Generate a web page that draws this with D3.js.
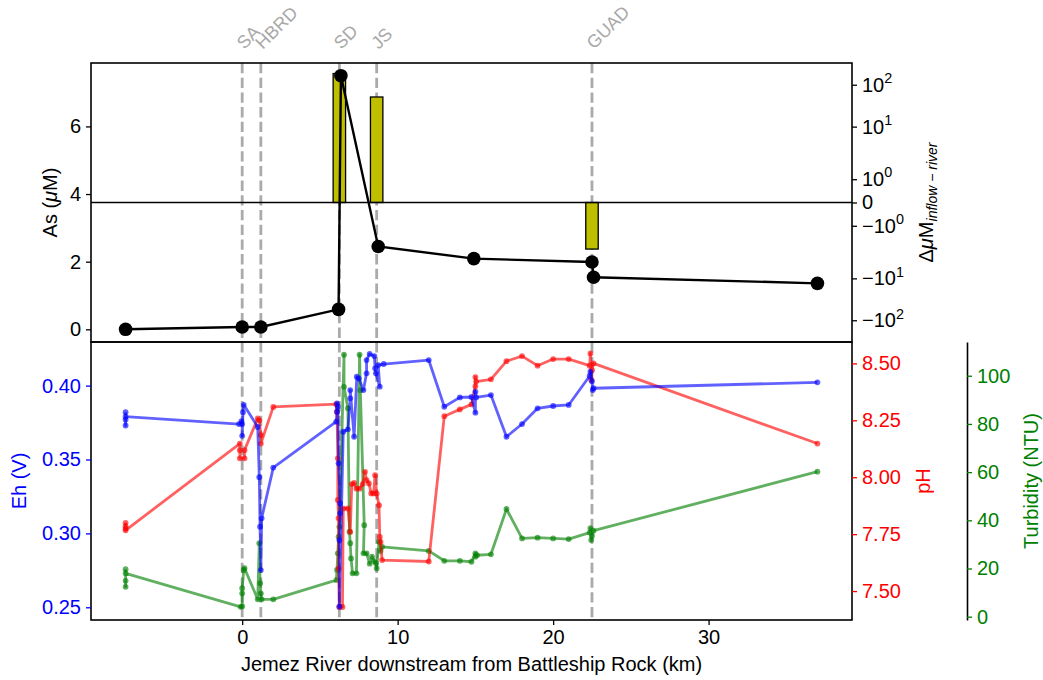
<!DOCTYPE html>
<html>
<head>
<meta charset="utf-8">
<script src="https://cdn.jsdelivr.net/npm/d3@7"></script>
<style>
  body { margin: 0; background: #fff; }
  svg { font-family: "Liberation Sans", Arial, sans-serif; }
</style>
</head>
<body>
<div id="chart"></div>
<script>
// sampling sites along the river (km downstream)
const sites = ["SA", "HBRD", "SD", "JS", "GUAD"];
const siteKm = [0, 1.2, 6.25, 8.65, 22.5];
// inflow minus river arsenic (uM), one bar per site
const deltaAs = [0, 0, 185, 51, -2];

// river arsenic (uM)
const asKm = [-7.5, 0, 1.2, 6.2, 6.35, 8.75, 14.9, 22.5, 22.6, 37];
const asUM = [0.0, 0.07, 0.07, 0.59, 7.5, 2.45, 2.09, 1.99, 1.54, 1.36];

// sonde readings, [km, value]
const ehPts = [
  [-7.5,0.382],[-7.5,0.373],[-7.5,0.377],[-7.5,0.379],
  [-0.2,0.374],[-0.05,0.376],[0,0.374],[0,0.366],[0.05,0.382],[0.1,0.387],
  [1.0,0.372],[1.1,0.338],[1.15,0.3045],[1.2,0.2752],[1.25,0.3102],[2.0,0.3445],
  [6.05,0.3756],[6.1,0.3823],[6.1,0.388],[6.15,0.3857],[6.2,0.3474],[6.3,0.3204],[6.3,0.3136],[6.25,0.2955],[6.25,0.2504],
  [6.5,0.3688],[6.8,0.3704],[6.95,0.3914],[6.95,0.397],[7.2,0.3654],[7.37,0.406],[7.5,0.4049],[7.8,0.397],
  [8.0,0.4083],[8.0,0.4173],[8.2,0.4214],[8.5,0.42],[8.55,0.4117],[8.6,0.4083],[8.85,0.3993],[8.75,0.4139],[9.1,0.4146],
  [12.0,0.4173],[13.0,0.3857],[14.0,0.392],[14.75,0.3923],[15.0,0.3817],[15.0,0.3959],[15.05,0.392],[16.0,0.3936],
  [17.0,0.3654],[18.0,0.374],[19.0,0.3846],[20.0,0.3862],[21.0,0.3869],
  [22.35,0.4065],[22.4,0.4094],[22.5,0.403],[22.55,0.397],[22.6,0.3982],[37.0,0.4022]
];
const phPts = [
  [-7.5,7.800],[-7.5,7.785],[-7.5,7.775],[-7.5,7.767],
  [-0.15,8.148],[-0.15,8.119],[-0.15,8.083],[0.15,8.083],[0.15,8.119],
  [1.0,8.258],[1.1,8.25],[1.2,8.185],[1.2,8.148],[2.0,8.309],
  [6.05,8.321],[6.1,8.287],[6.15,8.083],[6.15,7.90],[6.2,7.82],[6.2,7.60],[6.25,7.43],[6.45,7.43],
  [6.5,7.863],[6.8,7.863],[6.95,7.76],[7.05,7.97],[7.2,7.975],[7.35,7.95],[7.55,7.95],[7.75,7.97],
  [7.9,8.024],[8.0,7.987],[8.15,7.973],[8.3,7.929],[8.45,7.929],[8.55,8.009],[8.65,7.929],[8.8,7.877],
  [8.85,7.738],[8.9,7.716],[9.0,7.636],
  [12.0,7.63],[13.0,8.268],[14.0,8.298],[14.75,8.32],[15.0,8.40],[15.0,8.44],[15.05,8.42],[16.0,8.43],
  [17.0,8.51],[18.0,8.532],[19.0,8.49],[20.0,8.519],[21.0,8.519],
  [22.35,8.49],[22.4,8.544],[22.45,8.427],[22.5,8.47],[22.6,8.5],[37.0,8.148]
];
const turbPts = [
  [-7.5,19.7],[-7.5,12.4],[-7.5,14.9],[-7.5,18.0],
  [-0.1,4.1],[0,4.3],[0,9.7],[0,11.8],[0.1,19.4],[0.15,20.1],
  [1.0,7.2],[1.1,30.5],[1.15,13.9],[1.2,9.7],[1.25,7.2],[2.0,7.2],
  [6.05,15.2],[6.1,19.4],[6.15,26.3],[6.2,33.2],[6.25,37.3],[6.55,108.7],[6.55,95.4],[6.8,86.5],
  [6.9,35.3],[6.95,30.5],[7.0,24.2],[7.1,18],[7.35,18],[7.55,108.7],[7.6,94],[7.85,38],[7.8,26.3],
  [8.0,26.3],[8.2,22],[8.35,24.9],[8.5,23],[8.6,22.2],[8.65,20],[8.8,31.1],[8.9,27.3],[9.0,29],
  [12.0,27.3],[13.0,23.2],[14.0,23.2],[14.75,22.8],[15.0,26.3],[15.0,24.9],[15.1,25.5],[16.0,25.9],
  [17.0,44.7],[18.0,32.5],[19.0,32.8],[20.0,32.5],[21.0,32.2],
  [22.35,34.9],[22.4,36.7],[22.45,31.8],[22.5,33.5],[22.6,35.7],[37.0,60.2]
];

const xTicks = [0, 10, 20, 30];
const asTicks = [0, 2, 4, 6];
const deltaTicks = [-100, -10, -1, 0, 1, 10, 100];
const ehTicks = [0.25, 0.30, 0.35, 0.40];
const phTicks = [7.5, 7.75, 8.0, 8.25, 8.5];
const turbTicks = [0, 20, 40, 60, 80, 100];

const W = 1043, H = 680;
const L = 91, R = 852, T1 = 63, B1 = 342, T2 = 342, B2 = 620;
const FS = 20;
const blue = "#0000ff", red = "#ff0000", green = "#008000";

const svg = d3.select("#chart").append("svg")
    .attr("width", W)
    .attr("height", H);

const x = d3.scaleLinear().domain([-9.725, 39.225]).range([L, R]);
const yAs = d3.scaleLinear().domain([-0.375, 7.875]).range([B1, T1]);

// matplotlib-like symlog (linthresh 2, linscale 1)
const linthresh = 2, linscaleAdj = 1 / (1 - 1 / 10);
function symlog(v) {
    const a = Math.abs(v);
    if (a <= linthresh) return v * linscaleAdj;
    return Math.sign(v) * linthresh * (linscaleAdj + Math.log10(a / linthresh));
}
const dMax = symlog(330);
const yD = d3.scaleLinear().domain([-dMax, dMax]).range([B1, T1]);

const yEh = d3.scaleLinear().domain([0.2414, 0.4295]).range([B2, T2]);
const yPh = d3.scaleLinear().domain([7.373, 8.594]).range([B2, T2]);
const yT = d3.scaleLinear().domain([-1.37, 114.0]).range([B2, T2]);

const defs = svg.append("defs");
defs.append("clipPath").attr("id", "clipTop")
  .append("rect").attr("x", L).attr("y", T1).attr("width", R - L).attr("height", B1 - T1);
defs.append("clipPath").attr("id", "clipBot")
  .append("rect").attr("x", L).attr("y", T2).attr("width", R - L).attr("height", B2 - T2);

// site markers across both panels
svg.append("g").selectAll("line.site")
  .data(siteKm)
  .join("line")
    .attr("class", "site")
    .attr("x1", d => x(d)).attr("x2", d => x(d))
    .attr("y1", T1).attr("y2", B2)
    .attr("stroke", "#aaaaaa")
    .attr("stroke-width", 2.8)
    .attr("stroke-dasharray", "10.3 4.4");

svg.append("g").selectAll("text.site")
  .data(sites)
  .join("text")
    .attr("class", "site")
    .attr("transform", (d, i) => `translate(${x(siteKm[i]) + 2},50) rotate(-45)`)
    .attr("font-size", 18)
    .attr("fill", "#a9a9a9")
    .text(d => d);

// ---- top panel ----
const topG = svg.append("g").attr("clip-path", "url(#clipTop)");

const bw = x(0.8) - x(0);
topG.selectAll("rect.bar")
  .data(deltaAs)
  .join("rect")
    .attr("class", "bar")
    .attr("x", (d, i) => x(siteKm[i]) - bw / 2)
    .attr("width", bw)
    .attr("y", d => Math.min(yD(symlog(d)), yD(0)))
    .attr("height", d => Math.abs(yD(symlog(d)) - yD(0)))
    .attr("fill", "#bfbf00")
    .attr("stroke", "black")
    .attr("stroke-width", 1.3);

topG.append("line")
    .attr("x1", L).attr("x2", R)
    .attr("y1", yD(0)).attr("y2", yD(0))
    .attr("stroke", "black")
    .attr("stroke-width", 1.6);

const asPts = asKm.map((k, i) => [k, asUM[i]]);
topG.append("path")
    .datum(asPts)
    .attr("d", d3.line().x(d => x(d[0])).y(d => yAs(d[1])))
    .attr("fill", "none")
    .attr("stroke", "black")
    .attr("stroke-width", 2.4);
topG.selectAll("circle.as")
  .data(asPts)
  .join("circle")
    .attr("class", "as")
    .attr("cx", d => x(d[0]))
    .attr("cy", d => yAs(d[1]))
    .attr("r", 6.8)
    .attr("fill", "black");

// ---- bottom panel ----
const botG = svg.append("g").attr("clip-path", "url(#clipBot)");

function drawSeries(pts, y, color) {
    const g = botG.append("g");
    g.append("path")
        .datum(pts)
        .attr("d", d3.line().x(d => x(d[0])).y(d => y(d[1])))
        .attr("fill", "none")
        .attr("stroke", color)
        .attr("stroke-opacity", 0.62)
        .attr("stroke-width", 2.8)
        .attr("stroke-linejoin", "round");
    g.selectAll("circle")
      .data(pts)
      .join("circle")
        .attr("cx", d => x(d[0]))
        .attr("cy", d => y(d[1]))
        .attr("r", 2.9)
        .attr("fill", color)
        .attr("fill-opacity", 0.62);
}
drawSeries(turbPts, yT, green);
drawSeries(phPts, yPh, red);
drawSeries(ehPts, yEh, blue);

// ---- frames and axes ----
[[T1, B1], [T2, B2]].forEach(([a, b]) => {
    svg.append("rect")
        .attr("x", L).attr("y", a)
        .attr("width", R - L).attr("height", b - a)
        .attr("fill", "none")
        .attr("stroke", "black")
        .attr("stroke-width", 1.6);
});

function styleAxis(g, color) {
    g.attr("font-size", FS)
     .attr("font-family", "Liberation Sans, Arial, sans-serif")
     .attr("color", color);
    g.selectAll(".tick line").attr("stroke-width", 1.3);
    return g;
}

svg.append("g")
    .attr("transform", `translate(${L},0)`)
    .call(d3.axisLeft(yAs).tickValues(asTicks).tickSize(5).tickPadding(5).tickSizeOuter(0))
    .call(g => styleAxis(g, "black"))
    .call(g => g.select(".domain").remove());

// symlog right axis with superscript labels
const dAxis = svg.append("g")
    .attr("transform", `translate(${R},0)`)
    .call(d3.axisRight(yD).tickValues(deltaTicks.map(symlog)).tickFormat("").tickSize(5).tickSizeOuter(0))
    .call(g => styleAxis(g, "black"))
    .call(g => g.select(".domain").remove());
dAxis.selectAll(".tick").each(function(_, i) {
    const v = deltaTicks[i];
    const t = d3.select(this).append("text")
        .attr("x", 10).attr("dy", "0.32em")
        .attr("fill", "black")
        .attr("text-anchor", "start");
    if (v === 0) { t.text("0"); return; }
    t.append("tspan").text((v < 0 ? "\u2212" : "") + "10");
    t.append("tspan")
        .attr("dy", "-0.6em")
        .attr("font-size", FS * 0.72)
        .text(Math.round(Math.log10(Math.abs(v))));
});

svg.append("g")
    .attr("transform", `translate(0,${B2})`)
    .call(d3.axisBottom(x).tickValues(xTicks).tickSize(5).tickPadding(5).tickSizeOuter(0))
    .call(g => styleAxis(g, "black"))
    .call(g => g.select(".domain").remove());

svg.append("g")
    .attr("transform", `translate(${L},0)`)
    .call(d3.axisLeft(yEh).tickValues(ehTicks).tickFormat(d3.format(".2f")).tickSize(5).tickPadding(5).tickSizeOuter(0))
    .call(g => styleAxis(g, blue))
    .call(g => g.select(".domain").remove());

svg.append("g")
    .attr("transform", `translate(${R},0)`)
    .call(d3.axisRight(yPh).tickValues(phTicks).tickFormat(d3.format(".2f")).tickSize(5).tickPadding(5).tickSizeOuter(0))
    .call(g => styleAxis(g, red))
    .call(g => g.select(".domain").remove());

const turbX = 967;
svg.append("g")
    .attr("transform", `translate(${turbX},0)`)
    .call(d3.axisRight(yT).tickValues(turbTicks).tickSize(5).tickPadding(5).tickSizeOuter(0))
    .call(g => styleAxis(g, green))
    .call(g => g.select(".domain").attr("stroke", "black").attr("stroke-width", 1.6));

// ---- axis titles ----
function vLabel(cx, cy, color) {
    return svg.append("text")
        .attr("transform", `translate(${cx},${cy}) rotate(-90)`)
        .attr("text-anchor", "middle")
        .attr("dy", "0.35em")
        .attr("font-size", FS)
        .attr("fill", color);
}

const asLab = vLabel(50, (T1 + B1) / 2, "black");
asLab.append("tspan").text("As (");
asLab.append("tspan").attr("font-style", "italic").text("\u03bc");
asLab.append("tspan").text("M)");

const dLab = vLabel(926, (T1 + B1) / 2, "black");
dLab.append("tspan").text("\u0394");
dLab.append("tspan").attr("font-style", "italic").text("\u03bc");
dLab.append("tspan").text("M");
dLab.append("tspan")
    .attr("font-style", "italic")
    .attr("font-size", FS * 0.7)
    .attr("dy", "0.3em")
    .text("inflow \u2212 river");

vLabel(19, (T2 + B2) / 2, blue).text("Eh (V)");
vLabel(923, (T2 + B2) / 2, red).text("pH");
vLabel(1031, (T2 + B2) / 2, green).text("Turbidity (NTU)");

svg.append("text")
    .attr("x", (L + R) / 2)
    .attr("y", 671)
    .attr("text-anchor", "middle")
    .attr("font-size", FS)
    .text("Jemez River downstream from Battleship Rock (km)");
</script>
</body>
</html>
